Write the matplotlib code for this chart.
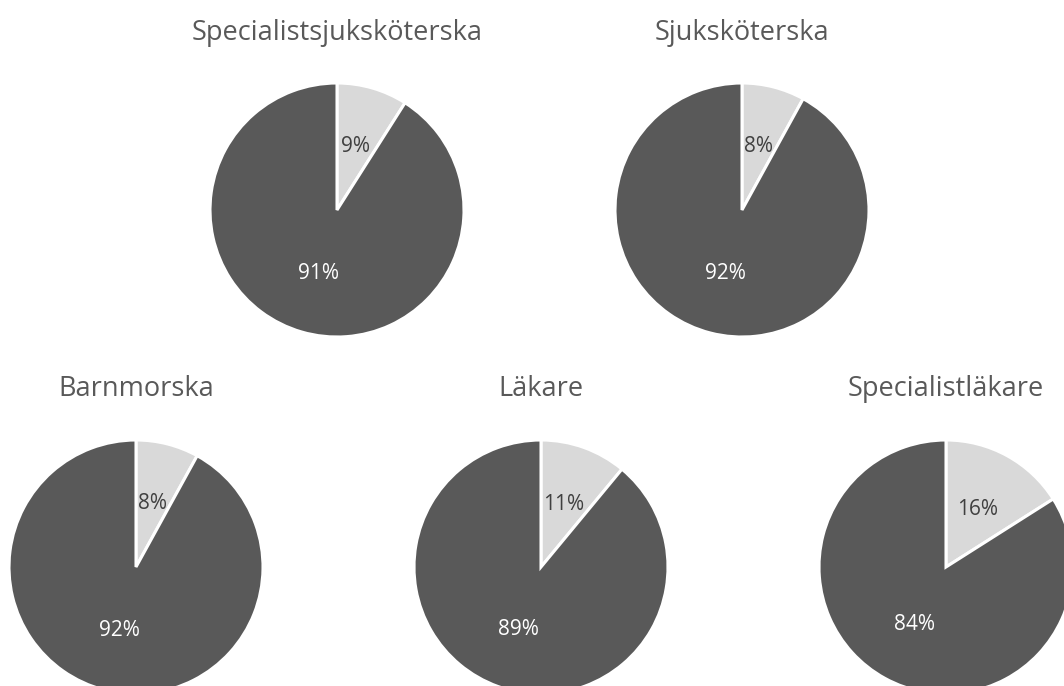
import matplotlib
matplotlib.use('Agg')
import matplotlib.pyplot as plt

### Data
titles = ['Specialistsjuksköterska', 'Sjuksköterska', 'Barnmorska', 'Läkare', 'Specialistläkare']
share_yes = [9, 8, 8, 11, 16]
share_no = [91, 92, 92, 89, 84]

### Layout in pixels (center x, center y from top)
W, H = 1064, 686
centers = [(337, 210), (742, 210), (136, 567), (541, 567), (946, 567)]
title_y = [33, 33, 389, 389, 389]
R = 127

plt.rcParams['font.family'] = ['Open Sans', 'DejaVu Sans']
fig = plt.figure(figsize=(W / 100, H / 100), dpi=100)

for i, (cx, cy) in enumerate(centers):
    ax = fig.add_axes([(cx - R) / W, (H - cy - R) / H, 2 * R / W, 2 * R / H])
    wedges, texts, autotexts = ax.pie(
        [share_yes[i], share_no[i]],
        colors=['#D9D9D9', '#595959'],
        startangle=90, counterclock=False,
        autopct='%1.0f%%', pctdistance=0.52,
        wedgeprops=dict(edgecolor='white', linewidth=2.2),
        textprops=dict(fontsize=15))
    autotexts[0].set_color('#404040')
    autotexts[1].set_color('white')
    ax.set_xlim(-1, 1)
    ax.set_ylim(-1, 1)
    ax.set_aspect('equal')
    ax.axis('off')
    fig.text(cx / W, 1 - title_y[i] / H, titles[i], ha='center', va='center',
             fontsize=19.5, color='#595959')

fig.savefig('out.png', dpi=100)
